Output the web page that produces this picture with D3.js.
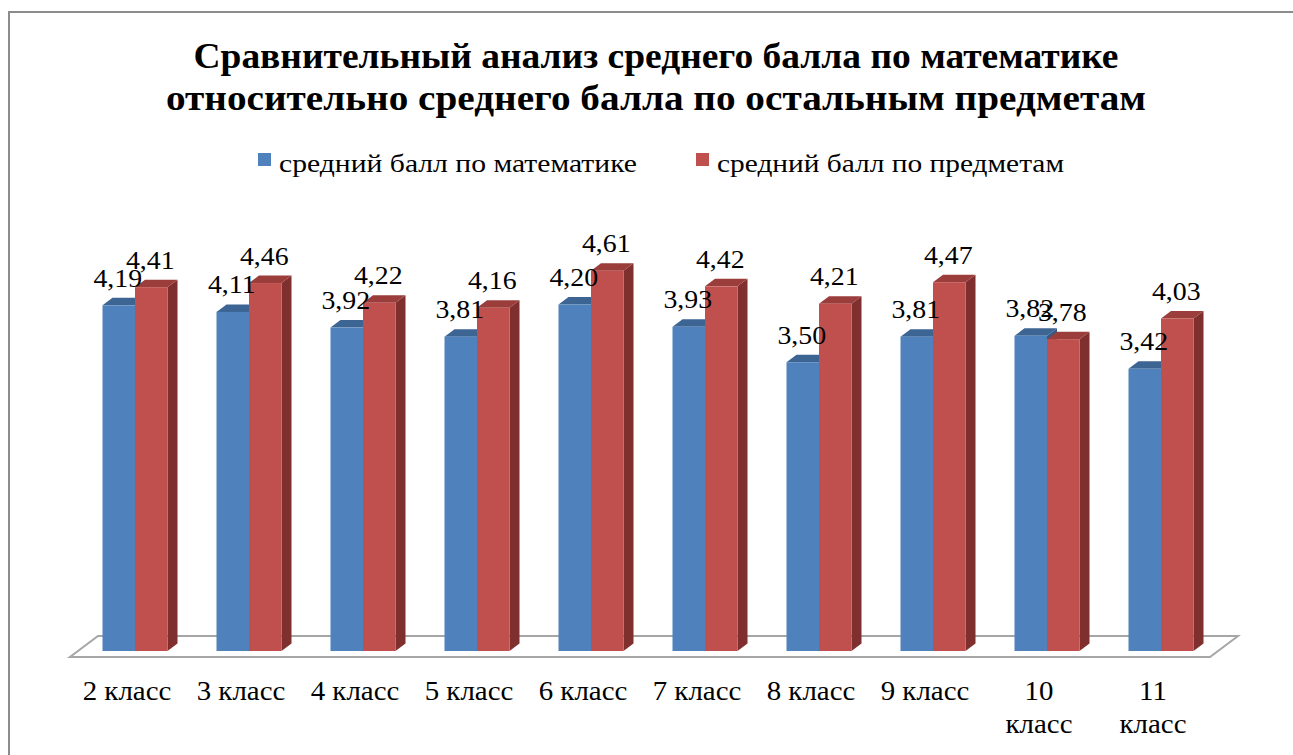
<!DOCTYPE html>
<html>
<head>
<meta charset="utf-8">
<script src="https://cdn.jsdelivr.net/npm/d3@7"></script>
<style>
  html, body { margin: 0; padding: 0; background: #fff; }
  svg { display: block; }
</style>
</head>
<body>
<div id="chart"></div>
<script>
// data
const classes = ["2 класс", "3 класс", "4 класс", "5 класс", "6 класс", "7 класс", "8 класс", "9 класс", "10 класс", "11 класс"];
const mathScores = [4.19, 4.11, 3.92, 3.81, 4.20, 3.93, 3.50, 3.81, 3.82, 3.42];
const otherScores = [4.41, 4.46, 4.22, 4.16, 4.61, 4.42, 4.21, 4.47, 3.78, 4.03];
const seriesNames = ["средний балл по математике", "средний балл по предметам"];
const titleLines = ["Сравнительный анализ среднего балла по математике",
                    "относительно среднего балла по остальным предметам"];

const width = 1293, height = 755;
const serif = "'Liberation Serif', 'Times New Roman', serif";
const stretchX = 1.07; // the original text is drawn slightly wider than plain Times

const svg = d3.select("#chart").append("svg")
    .attr("width", width)
    .attr("height", height)
    .style("font-family", serif);

// widen a text by a factor, keeping its anchor
function widen(sel, factor) {
    sel.each(function () {
        const len = this.getComputedTextLength();
        d3.select(this)
            .attr("textLength", len * factor)
            .attr("lengthAdjust", "spacingAndGlyphs");
    });
}

// frame (only left & top visible in the picture)
svg.append("path")
    .attr("d", "M9,755 L9,12 L1293,12")
    .attr("fill", "none")
    .attr("stroke", "#8c8c8c")
    .attr("stroke-width", 2);

// title
const titleWidths = [925, 980];
svg.append("g").selectAll("text")
    .data(titleLines)
    .join("text")
    .attr("x", 656)
    .attr("y", (d, i) => 68 + i * 42)
    .attr("text-anchor", "middle")
    .style("font-size", "36px")
    .style("font-weight", "bold")
    .attr("textLength", (d, i) => titleWidths[i])
    .attr("lengthAdjust", "spacingAndGlyphs")
    .text(d => d);

// colours: front, top, side
const palette = [
    { front: "#4f81bd", top: "#3c6593", side: "#345a86" },
    { front: "#c0504d", top: "#9a3d3b", side: "#7f2f2e" }
];

// legend
const legendX = [258, 696];
const legendWidths = [358, 347];
const legend = svg.append("g");
seriesNames.forEach((name, i) => {
    legend.append("rect")
        .attr("x", legendX[i]).attr("y", 153)
        .attr("width", 13).attr("height", 13)
        .attr("fill", palette[i].front);
    legend.append("text")
        .attr("x", legendX[i] + 21).attr("y", 172)
        .style("font-size", "26px")
        .attr("textLength", legendWidths[i])
        .attr("lengthAdjust", "spacingAndGlyphs")
        .text(name);
});

// scales
const floorFront = 657, floorLeft = 70, floorRight = 1210;
const floorDx = 28, floorDy = -21;   // depth of the floor
const barOffX = 8, barOffY = -6;     // where bars start inside the depth
const depthX = 10, depthY = -7.5;    // depth of a bar

const x = d3.scaleBand()
    .domain(classes)
    .range([floorLeft, floorRight]);

const sub = d3.scaleBand()
    .domain([0, 1])
    .range([0, 65]);

const y = d3.scaleLinear()
    .domain([0, 5])
    .range([floorFront + barOffY, floorFront + barOffY - 412.5]);

// floor
svg.append("path")
    .attr("d", `M${floorLeft},${floorFront} L${floorRight},${floorFront} L${floorRight + floorDx},${floorFront + floorDy} L${floorLeft + floorDx},${floorFront + floorDy} Z`)
    .attr("fill", "#fff")
    .attr("stroke", "#a6a6a6")
    .attr("stroke-width", 2);

// bars
const bars = svg.append("g");
const labels = [];
classes.forEach((c, gi) => {
    const groupX = x(c) + x.bandwidth() / 2 - 32.5 + barOffX;
    [mathScores[gi], otherScores[gi]].forEach((v, si) => {
        const x0 = groupX + sub(si);
        const w = sub.bandwidth();
        const y0 = y(0), y1 = y(v);
        const col = palette[si];
        // side
        bars.append("path")
            .attr("d", `M${x0 + w},${y1} L${x0 + w + depthX},${y1 + depthY} L${x0 + w + depthX},${y0 + depthY} L${x0 + w},${y0} Z`)
            .attr("fill", col.side);
        // top
        bars.append("path")
            .attr("d", `M${x0},${y1} L${x0 + depthX},${y1 + depthY} L${x0 + w + depthX},${y1 + depthY} L${x0 + w},${y1} Z`)
            .attr("fill", col.top);
        // front
        bars.append("rect")
            .attr("x", x0).attr("y", y1)
            .attr("width", w).attr("height", y0 - y1)
            .attr("fill", col.front);
        labels.push({ x: x0 + w / 2 - 1, y: y1 + depthY - 11, text: d3.format(".2f")(v).replace(".", ",") });
    });
});

svg.append("g").selectAll("text")
    .data(labels)
    .join("text")
    .attr("x", d => d.x)
    .attr("y", d => d.y)
    .attr("text-anchor", "middle")
    .style("font-size", "26px")
    .text(d => d.text)
    .call(widen, stretchX);

// category labels (long ones wrap like the original)
const axisLabels = svg.append("g");
classes.forEach(c => {
    const cx = x(c) + x.bandwidth() / 2;
    const parts = c.length > 7 ? c.split(" ") : [c];
    axisLabels.append("g").selectAll("text")
        .data(parts)
        .join("text")
        .attr("x", cx)
        .attr("y", (d, i) => 700 + i * 33)
        .attr("text-anchor", "middle")
        .style("font-size", "27px")
        .text(d => d)
        .call(widen, stretchX);
});
</script>
</body>
</html>
